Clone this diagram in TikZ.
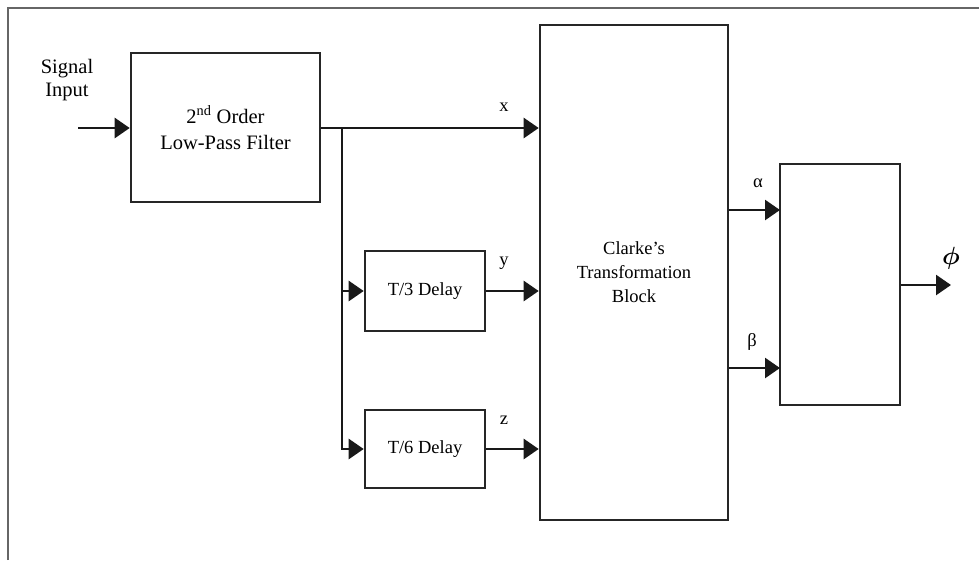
\documentclass[tikz,border=0pt]{standalone}
\usepackage{bm}
\usepackage{fontspec}
\setmainfont{Liberation Serif}
\usetikzlibrary{arrows.meta}

\tikzset{
  blk/.style={draw=black!85, line width=2.6pt, inner sep=0pt, align=center},
  wire/.style={draw=black!90, line width=2.6pt},
  sig/.style={wire, -{Triangle[length=15pt,width=20pt]}},
}

\begin{document}
\begin{tikzpicture}[x=1pt,y=-1pt, font=\fontsize{18.5}{24}\selectfont]
        \useasboundingbox (0,0) rectangle (979,560);

        % Marco
        \draw[black!60, line width=1.5pt] (8,560) -- (8,8) -- (979,8);

        % Bloques
        \node[blk, minimum width=189pt, minimum height=149pt,
              font=\fontsize{20.5}{26}\selectfont] (filt) at (225.5,127.5)
              {2\textsuperscript{nd} Order\\Low-Pass Filter};
        \node[blk, minimum width=120pt, minimum height=80pt] (d3) at (425,291) {T/3 Delay};
        \node[blk, minimum width=120pt, minimum height=78pt] (d6) at (425,449) {T/6 Delay};
        \node[blk, minimum width=188pt, minimum height=495pt] (clarke) at (634,272.5)
              {Clarke’s\\Transformation\\Block};
        \node[blk, minimum width=120pt, minimum height=241pt] (out) at (840,284.5) {};

        % Entrada
        \node[align=center, font=\fontsize{20.5}{23}\selectfont] (sin) at (67,80) {Signal\\Input};
        \coordinate (in) at (78,128);
        \draw[sig] (in) -- (in -| filt.west);

        % Salida del filtro y ramas
        \coordinate (br) at (342,128);
        \draw[sig] (filt.east |- br) -- (br -| clarke.west);
        \draw[sig] (br) |- (d6.west);
        \draw[sig] (br |- d3.west) -- (d3.west);
        \draw[sig] (d3.east) -- (d3.east -| clarke.west);
        \draw[sig] (d6.east) -- (d6.east -| clarke.west);

        \node (lx) at (504,107) {x};
        \node (ly) at (504,263) {y};
        \node (lz) at (504,420) {z};

        % Salidas de Clarke
        \coordinate (ain) at (780,210);
        \coordinate (bin) at (780,368);
        \draw[sig] (clarke.east |- ain) -- (ain);
        \draw[sig] (clarke.east |- bin) -- (bin);
        \node (la) at (758,183) {α};
        \node (lb) at (752,342) {β};

        \coordinate (phiend) at (951,285);
        \draw[sig] (out.east |- phiend) -- (phiend);
        \node[font=\fontsize{24}{26}\selectfont] (lphi) at (951,258) {$\bm{\phi}$};

    \end{tikzpicture}
\end{document}
